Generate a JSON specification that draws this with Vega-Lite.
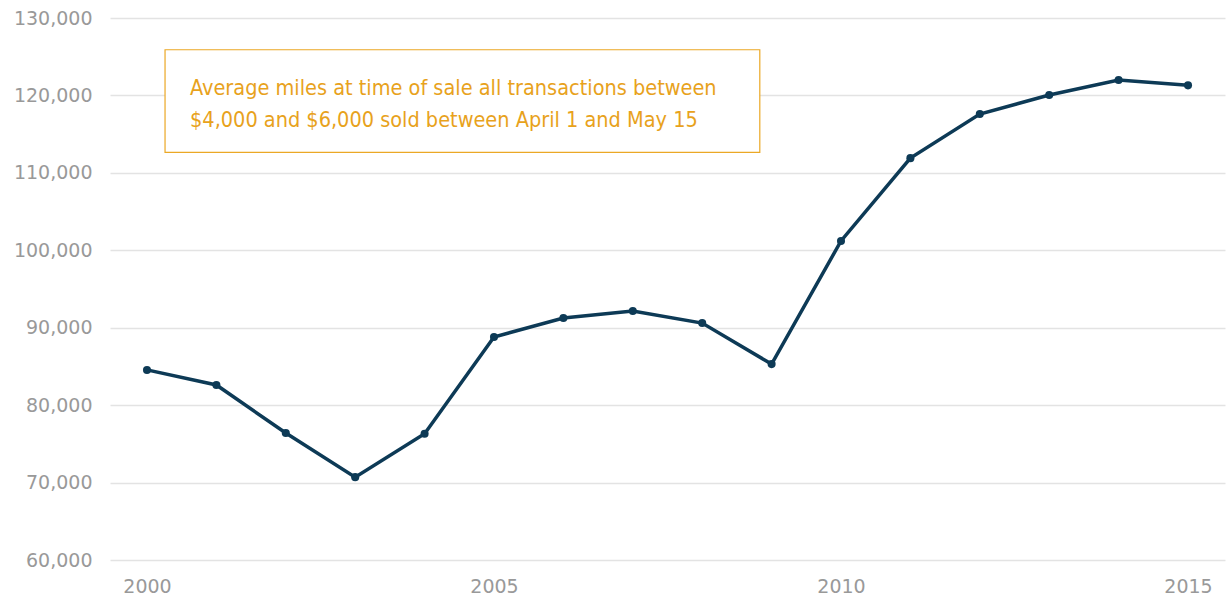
{
  "$schema": "https://vega.github.io/schema/vega-lite/v6.json",
  "autosize": {"type": "none"},
  "width": 1115,
  "height": 542,
  "padding": {"left": 110, "top": 18, "right": 6, "bottom": 38},
  "background": "white",
  "config": {"view": {"stroke": null}},
  "datasets": {
    "miles": [
      {"year": 2000, "miles": 84550},
      {"year": 2001, "miles": 82600},
      {"year": 2002, "miles": 76400},
      {"year": 2003, "miles": 70700},
      {"year": 2004, "miles": 76300},
      {"year": 2005, "miles": 88800},
      {"year": 2006, "miles": 91250},
      {"year": 2007, "miles": 92150},
      {"year": 2008, "miles": 90600},
      {"year": 2009, "miles": 85300},
      {"year": 2010, "miles": 101200},
      {"year": 2011, "miles": 111900},
      {"year": 2012, "miles": 117600},
      {"year": 2013, "miles": 120050},
      {"year": 2014, "miles": 122000},
      {"year": 2015, "miles": 121300}
    ],
    "box": [
      {"year": 2000.26, "year2": 2008.83, "miles": 112650, "miles2": 125900}
    ],
    "note": [
      {"year": 2000.62, "miles": 120050, "line": "Average miles at time of sale all transactions between"},
      {"year": 2000.62, "miles": 115920, "line": "$4,000 and $6,000 sold between April 1 and May 15"}
    ]
  },
  "encoding": {
    "x": {
      "field": "year", "type": "quantitative",
      "scale": {"domain": [1999.467, 2015.533], "nice": false, "zero": false},
      "axis": {
        "title": null, "values": [2000, 2005, 2010, 2015], "format": "d",
        "grid": false, "domain": false, "ticks": false,
        "labelFont": "DejaVu Sans", "labelFontSize": 19, "labelColor": "#999999",
        "labelPadding": 17, "labelFlush": false
      }
    },
    "y": {
      "field": "miles", "type": "quantitative",
      "scale": {"domain": [60000, 130000], "nice": false, "zero": false},
      "axis": {
        "title": null, "values": [60000, 70000, 80000, 90000, 100000, 110000, 120000, 130000],
        "format": ",.0f", "grid": true, "gridColor": "#e3e3e3", "gridWidth": 1.5,
        "domain": false, "ticks": false,
        "labelFont": "DejaVu Sans", "labelFontSize": 19, "labelColor": "#999999",
        "labelPadding": 18
      }
    }
  },
  "layer": [
    {
      "data": {"name": "miles"},
      "mark": {"type": "line", "color": "#0d3a56", "strokeWidth": 3.5}
    },
    {
      "data": {"name": "miles"},
      "mark": {"type": "point", "filled": true, "color": "#0d3a56", "size": 65, "opacity": 1}
    },
    {
      "data": {"name": "box"},
      "mark": {"type": "rect", "fill": "white", "stroke": "#EBA825", "strokeWidth": 1.2},
      "encoding": {
        "x2": {"field": "year2"},
        "y2": {"field": "miles2"}
      }
    },
    {
      "data": {"name": "note"},
      "mark": {"type": "text", "align": "left", "baseline": "alphabetic", "font": "'DejaVu Sans Condensed', 'Liberation Sans Narrow', Lato, sans-serif", "fontSize": 21.5, "color": "#E8A21C"},
      "encoding": {
        "text": {"field": "line"}
      }
    }
  ]
}
